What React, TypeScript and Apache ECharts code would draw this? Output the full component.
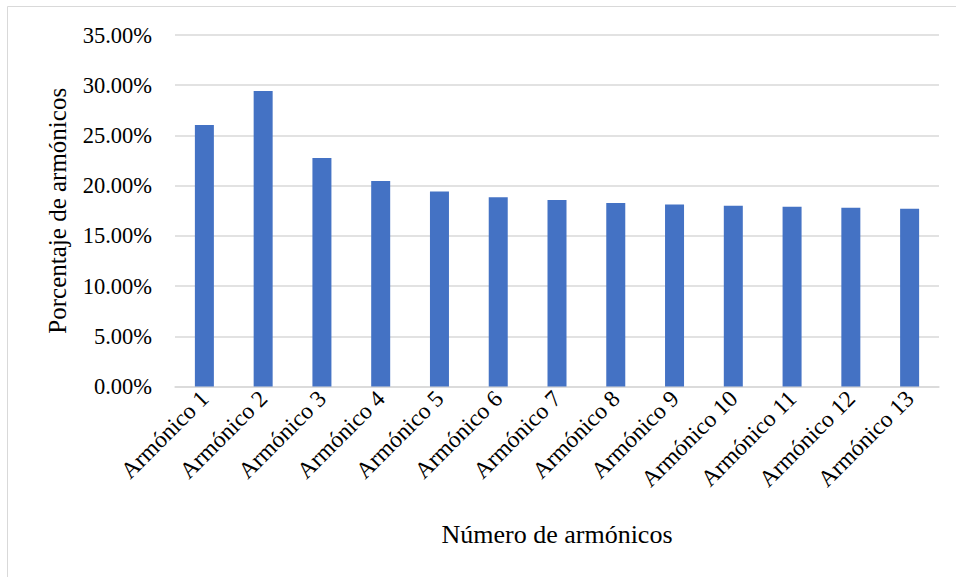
import React, { useEffect, useRef } from "react";
import * as echarts from "echarts";

const categories = [
  "Armónico 1", "Armónico 2", "Armónico 3", "Armónico 4", "Armónico 5",
  "Armónico 6", "Armónico 7", "Armónico 8", "Armónico 9", "Armónico 10",
  "Armónico 11", "Armónico 12", "Armónico 13",
];
const values = [26.04, 29.43, 22.75, 20.46, 19.42, 18.85, 18.58, 18.28, 18.11, 18.01, 17.91, 17.81, 17.71];
const yAxisName = "Porcentaje de armónicos";
const xAxisName = "Número de armónicos";

const FONT = "'Liberation Serif', 'Times New Roman', serif";

export default function App() {
  const ref = useRef<HTMLDivElement>(null);
  useEffect(() => {
    if (!ref.current) return;
    const chart = echarts.init(ref.current, undefined, { renderer: "svg" });
    chart.setOption({
      animation: false,
      backgroundColor: "#ffffff",
      textStyle: { fontFamily: FONT, color: "#000" },
      graphic: [
        {
          type: "rect",
          shape: { x: 7.5, y: 6.5, width: 1000, height: 1000 },
          style: { fill: "none", stroke: "#d9d9d9", lineWidth: 1 },
          silent: true,
        },
      ],
      grid: { left: 175, right: 17, top: 35, bottom: 190.5, containLabel: false },
      xAxis: {
        type: "category",
        data: categories,
        name: xAxisName,
        nameLocation: "middle",
        nameGap: 135,
        nameTextStyle: { fontFamily: FONT, fontSize: 26, color: "#000" },
        axisLine: { lineStyle: { color: "#d9d9d9", width: 1.5 } },
        axisTick: { show: false },
        axisLabel: { rotate: 45, fontFamily: FONT, fontSize: 23.5, color: "#000", margin: 8, interval: 0 },
      },
      yAxis: {
        type: "value",
        min: 0,
        max: 35,
        interval: 5,
        name: yAxisName,
        nameLocation: "middle",
        nameGap: 105,
        nameTextStyle: { fontFamily: FONT, fontSize: 25, color: "#000" },
        axisLine: { show: false },
        axisTick: { show: false },
        axisLabel: {
          fontFamily: FONT,
          fontSize: 22.5,
          color: "#000",
          margin: 23,
          formatter: (v: number) => v.toFixed(2) + "%",
        },
        splitLine: { lineStyle: { color: "#d9d9d9", width: 1.5 } },
      },
      series: [
        {
          type: "bar",
          data: values,
          barWidth: 19,
          itemStyle: { color: "#4472C4" },
        },
      ],
    });
    return () => chart.dispose();
  }, []);
  return (
    <div
      ref={ref}
      style={{ position: "fixed", left: 0, top: 0, width: 956, height: 577 }}
    />
  );
}
